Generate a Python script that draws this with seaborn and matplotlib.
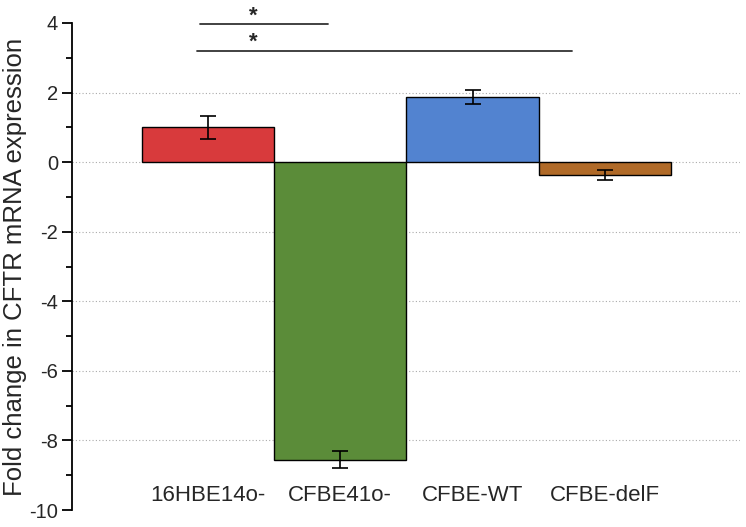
import pandas as pd
import numpy as np
import matplotlib.pyplot as plt
import seaborn as sns

cell_lines = ['16HBE14o-', 'CFBE41o-', 'CFBE-WT', 'CFBE-delF']
fold_change = [1.0, -8.55, 1.87, -0.37]
err = [0.34, 0.25, 0.21, 0.15]
bar_colors = ['#D83A3C', '#5B8C39', '#5283D0', '#B06A28']

# significance brackets: (x start, x end, y, star x)
sig_lines = [(-0.06, 0.91, 3.97, 0.34), (-0.08, 2.75, 3.2, 0.34)]

sns.set_style('white')
plt.rcParams['font.family'] = ['Liberation Sans', 'DejaVu Sans']
plt.rcParams['axes.unicode_minus'] = False

df = pd.DataFrame({'line': cell_lines, 'fc': fold_change})

fig = plt.figure(figsize=(7.46, 5.27), dpi=100)
ax = fig.add_axes([72 / 746, 17 / 527, 668 / 746, 487 / 527])

sns.barplot(data=df, x='line', y='fc', hue='line', palette=bar_colors,
            width=1.0, edgecolor='black', linewidth=1.0, legend=False,
            errorbar=None, ax=ax, zorder=2, saturation=1)
ax.errorbar(np.arange(len(cell_lines)), fold_change, yerr=err, fmt='none',
            ecolor='black', elinewidth=1.2, capsize=6, capthick=1.2, zorder=3)

for x0, x1, y, xs in sig_lines:
    ax.plot([x0, x1], [y, y], color='#333333', lw=1.3, clip_on=False, zorder=3)
    ax.text(xs, y + 0.08, '*', ha='center', va='baseline', fontsize=16,
            fontweight='bold', clip_on=False)

ax.set_ylim(-10, 4)
ax.set_xlim(-1.026, 4.02)
ax.set_yticks(range(-10, 5, 2))
ax.set_yticks(range(-9, 5, 2), minor=True)
ax.yaxis.grid(True, which='major', linestyle=(0, (1, 2)), color='#aaaaaa', lw=0.8, zorder=0)
for gl, v in zip(ax.get_ygridlines(), range(-10, 5, 2)):
    if v in (-10, 4):
        gl.set_visible(False)
ax.set_axisbelow(True)

for s in ['top', 'right', 'bottom']:
    ax.spines[s].set_visible(False)
ax.spines['left'].set_color('black')
ax.spines['left'].set_linewidth(1.3)

ax.tick_params(axis='y', which='major', direction='out', length=7, width=1.3,
               labelsize=14.5, left=True, color='black', pad=3)
ax.tick_params(axis='y', which='minor', direction='out', length=4, width=1.3,
               left=True, color='black')
ax.tick_params(axis='x', length=0, pad=-18, labelsize=16)

ax.set_xlabel('')
ax.set_ylabel('Fold change in CFTR mRNA expression', fontsize=18.5)
ax.yaxis.set_label_coords(-0.067, 0.5)

plt.savefig('out.png', dpi=100)
